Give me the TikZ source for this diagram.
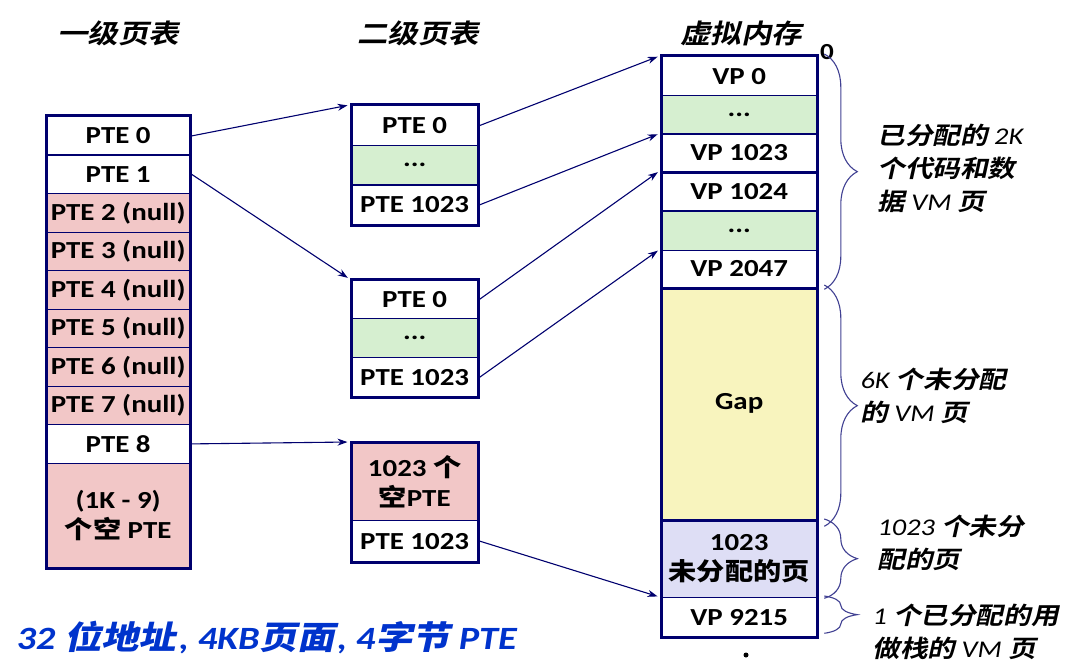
\documentclass[tikz,border=0pt]{standalone}
\usepackage{fontspec}
\setmainfont{Carlito}[FakeStretch=1.18]
\newfontfamily\cjk{Noto Sans CJK SC Bold}[FakeStretch=1.15]
\newfontfamily\cjks{Noto Sans CJK SC Bold}[FakeStretch=1.15,FakeSlant=0.22]
\usetikzlibrary{arrows.meta,decorations.pathreplacing}
\newcommand\lt[1]{{\rmfamily\itshape #1}}
\definecolor{navy}{RGB}{0,0,110}
\definecolor{pinkc}{RGB}{242,199,199}
\definecolor{greenc}{RGB}{214,239,208}
\definecolor{yellowc}{RGB}{248,244,190}
\definecolor{lavc}{RGB}{222,222,245}
\definecolor{bluet}{RGB}{0,51,204}
\tikzset{
  cell/.style={draw=navy, line width=1.3pt, inner sep=0pt, anchor=north west,
    font=\fontsize{24.5}{30}\selectfont\bfseries, align=center, text=black},
  lc/.style={cell, minimum width=143pt, minimum height=38.5pt},
  tc/.style={cell, minimum width=126pt},
  vc/.style={cell, minimum width=155pt},
  frame/.style={draw=navy, line width=3pt},
  arr/.style={-{Stealth[length=10pt,width=7pt]}, draw=navy, line width=1.1pt, shorten >=2pt},
  brc/.style={decorate, decoration={brace, amplitude=33pt}, draw=navy!75, line width=1.1pt},
  ttl/.style={font=\fontsize{26.5}{30}\selectfont\cjks, text=black},
  lab/.style={anchor=west, align=left, font=\fontsize{24}{33}\selectfont\cjks, text=black}
}
\begin{document}
\begin{tikzpicture}[x=1pt,y=-1pt]
\useasboundingbox (0,0) rectangle (1089,663);
% titles
\node[ttl] (t1) at (118,33) {一级页表};
\node[ttl] (t2) at (418,33) {二级页表};
\node[ttl] (t3) at (741,33) {虚拟内存};
% level 1
\node[lc] (l0) at (46,116) {PTE 0};
\node[lc] (l1) at (46,154.5) {PTE 1};
\node[lc,fill=pinkc] (l2) at (46,193) {PTE 2 (null)};
\node[lc,fill=pinkc] (l3) at (46,231.5) {PTE 3 (null)};
\node[lc,fill=pinkc] (l4) at (46,270) {PTE 4 (null)};
\node[lc,fill=pinkc] (l5) at (46,308.5) {PTE 5 (null)};
\node[lc,fill=pinkc] (l6) at (46,347) {PTE 6 (null)};
\node[lc,fill=pinkc] (l7) at (46,385.5) {PTE 7 (null)};
\node[lc] (l8) at (46,424) {PTE 8};
\node[lc,fill=pinkc,minimum height=104.5pt] (l9) at (46,462.5) {(1K - 9)\\{\cjk 个空} PTE};
\draw[frame] (l0.north west) rectangle (l9.south east);
% level 2, table A
\node[tc,minimum height=39.7pt] (a0) at (351,105) {PTE 0};
\node[tc,minimum height=39.6pt,fill=greenc] (a1) at (351,144.7) {...};
\node[tc,minimum height=39.7pt] (a2) at (351,184.3) {PTE 1023};
\draw[frame] (a0.north west) rectangle (a2.south east);
% table B
\node[tc,minimum height=39pt] (b0) at (351,279) {PTE 0};
\node[tc,minimum height=39pt,fill=greenc] (b1) at (351,318) {...};
\node[tc,minimum height=39pt] (b2) at (351,357) {PTE 1023};
\draw[frame] (b0.north west) rectangle (b2.south east);
% table C
\node[tc,minimum height=78pt,fill=pinkc] (c0) at (351,442) {1023 {\cjk 个}\\{\cjk 空}PTE};
\node[tc,minimum height=41pt] (c1) at (351,520) {PTE 1023};
\draw[frame] (c0.north west) rectangle (c1.south east);
% virtual memory
\node[vc,minimum height=39pt] (v0) at (661,56) {VP 0};
\node[vc,minimum height=38.5pt,fill=greenc] (v1) at (661,95) {...};
\node[vc,minimum height=37.5pt] (v2) at (661,133.5) {VP 1023};
\node[vc,minimum height=39.5pt] (v3) at (661,171) {VP 1024};
\node[vc,minimum height=39pt,fill=greenc] (v4) at (661,210.5) {...};
\node[vc,minimum height=37.5pt] (v5) at (661,249.5) {VP 2047};
\node[vc,minimum height=232pt,fill=yellowc] (v6) at (661,287) {Gap};
\node[vc,minimum height=78pt,fill=lavc] (v7) at (661,519) {1023\\{\cjk 未分配的页}};
\node[vc,minimum height=39pt] (v8) at (661,597) {VP 9215};
\draw[frame] (v0.north west) rectangle (v8.south east);
\draw[frame] (v2.south west) -- (v2.south east);
\draw[frame] (v5.south west) -- (v5.south east);
\draw[frame] (v6.south west) -- (v6.south east);
\node[font=\fontsize{23}{24}\selectfont\bfseries] (zero) at (827,52) {0};
\fill[black] (746,655) circle (2.5);
% arrows
\draw[arr] ([xshift=1.5pt]l0.east) -- ([xshift=-1.5pt]a0.north west);
\draw[arr] ([xshift=1.5pt]l1.east) -- ([xshift=-1.5pt]b0.north west);
\draw[arr] ([xshift=1.5pt]l8.east) -- ([xshift=-1.5pt]c0.north west);
\draw[arr] ([xshift=1.5pt]a0.east) -- ([xshift=-1.5pt]v0.north west);
\draw[arr] ([xshift=1.5pt]a2.east) -- ([xshift=-1.5pt]v2.north west);
\draw[arr] ([xshift=1.5pt]b0.east) -- ([xshift=-1.5pt]v3.north west);
\draw[arr] ([xshift=1.5pt]b2.east) -- ([xshift=-1.5pt]v5.north west);
\draw[arr] ([xshift=1.5pt]c1.east) -- ([xshift=-1.5pt]v8.north west);
% braces
\draw[brc] ([xshift=7pt,yshift=2pt]v0.north east) -- ([xshift=7pt,yshift=-1pt]v5.south east);
\draw[brc] ([xshift=7pt,yshift=2pt]v6.north east) -- ([xshift=7pt,yshift=-6pt]v6.south east);
\draw[brc] ([xshift=7pt]v7.north east) -- ([xshift=7pt]v7.south east);
\draw[brc] ([xshift=7pt,yshift=1pt]v8.north east) -- ([xshift=7pt,yshift=4pt]v8.south east);
% labels
\node[lab] (n1) at (874,168) {已分配的 \lt{2K}\\个代码和数\\据 \lt{VM} 页};
\node[lab] (n2) at (857,396) {\lt{6K} 个未分配\\的 \lt{VM} 页};
\node[lab] (n3) at (874,543) {\lt{1023} 个未分\\配的页};
\node[lab] (n4) at (869,632) {\lt{1} 个已分配的用\\做栈的 \lt{VM} 页};
% bottom note
\node[anchor=west, text=bluet, font=\fontsize{32.5}{34}\selectfont\bfseries\itshape] (note) at (13,637)
  {32 {\cjks 位地址}\kern3pt, 4KB{\cjks 页面}\kern3pt, 4{\cjks 字节} PTE};
\end{tikzpicture}
\end{document}
